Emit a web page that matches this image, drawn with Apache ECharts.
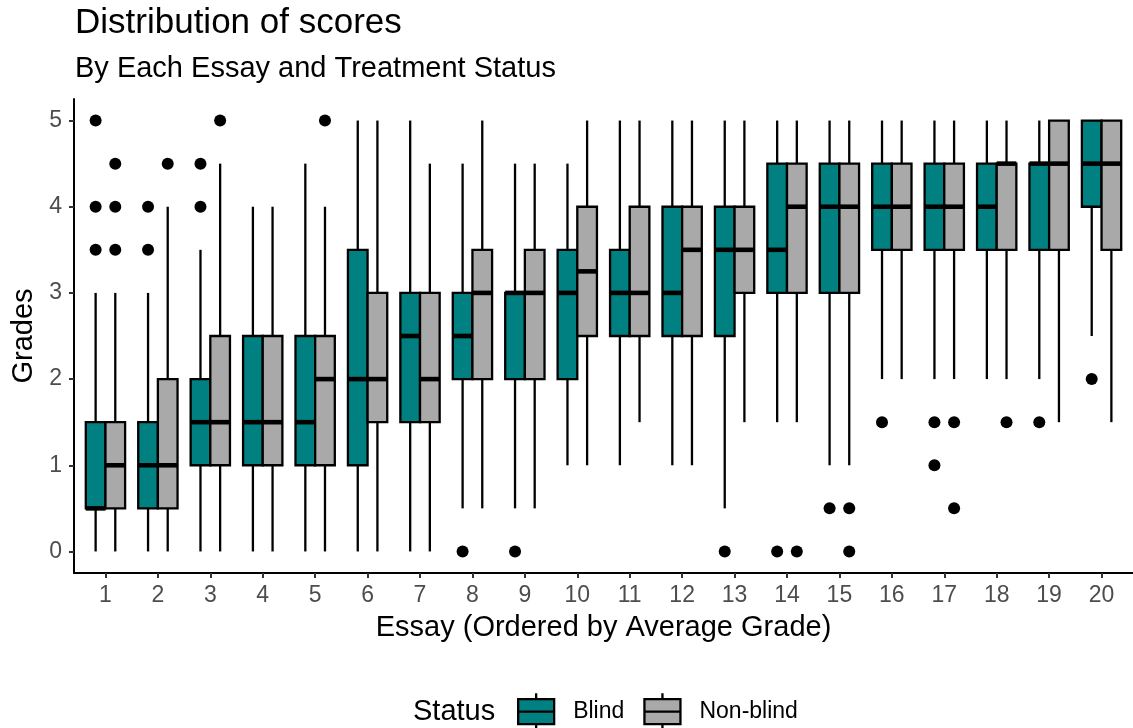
<!DOCTYPE html>
<html>
<head>
<meta charset="utf-8">
<script src="https://cdn.jsdelivr.net/npm/echarts@6/dist/echarts.min.js"></script>
<style>
  html, body { margin: 0; padding: 0; background: #fff; }
  #chart { width: 1133px; height: 728px; }
</style>
</head>
<body>
<div id="chart"></div>
<script>
// Essays, ordered by average grade
const essays = [1, 2, 3, 4, 5, 6, 7, 8, 9, 10, 11, 12, 13, 14, 15, 16, 17, 18, 19, 20];
const gradeTicks = [0, 1, 2, 3, 4, 5];

// Box statistics per essay: [lower whisker, Q1, median, Q3, upper whisker]
const blindStats = [
  [0, 0.5, 0.5, 1.5, 3],
  [0, 0.5, 1, 1.5, 3],
  [0, 1, 1.5, 2, 3.5],
  [0, 1, 1.5, 2.5, 4],
  [0, 1, 1.5, 2.5, 4.5],
  [0, 1, 2, 3.5, 5],
  [0, 1.5, 2.5, 3, 5],
  [0.5, 2, 2.5, 3, 4.5],
  [0.5, 2, 3, 3, 4.5],
  [1, 2, 3, 3.5, 4.5],
  [1, 2.5, 3, 3.5, 5],
  [1, 2.5, 3, 4, 5],
  [0.5, 2.5, 3.5, 4, 5],
  [1.5, 3, 3.5, 4.5, 5],
  [1, 3, 4, 4.5, 5],
  [2, 3.5, 4, 4.5, 5],
  [2, 3.5, 4, 4.5, 5],
  [2, 3.5, 4, 4.5, 5],
  [2, 3.5, 4.5, 4.5, 5],
  [2.5, 4, 4.5, 5, 5]
];
const nonBlindStats = [
  [0, 0.5, 1, 1.5, 3],
  [0, 0.5, 1, 2, 4],
  [0, 1, 1.5, 2.5, 4.5],
  [0, 1, 1.5, 2.5, 4],
  [0, 1, 2, 2.5, 4],
  [0, 1.5, 2, 3, 5],
  [0, 1.5, 2, 3, 4.5],
  [0.5, 2, 3, 3.5, 5],
  [0.5, 2, 3, 3.5, 4.5],
  [1, 2.5, 3.25, 4, 5],
  [1.5, 2.5, 3, 4, 5],
  [1, 2.5, 3.5, 4, 5],
  [1.5, 3, 3.5, 4, 5],
  [1.5, 3, 4, 4.5, 5],
  [1, 3, 4, 4.5, 5],
  [2, 3.5, 4, 4.5, 5],
  [2, 3.5, 4, 4.5, 5],
  [2, 3.5, 4.5, 4.5, 5],
  [1.5, 3.5, 4.5, 5, 5],
  [1.5, 3.5, 4.5, 5, 5]
];

// Outlying grades: [essay, grade]
const blindOutliers = [
  [1, 3.5], [1, 4], [1, 5],
  [2, 3.5], [2, 4],
  [3, 4], [3, 4.5],
  [8, 0], [9, 0], [13, 0], [14, 0],
  [15, 0.5], [16, 1.5], [17, 1.5], [17, 1],
  [19, 1.5], [20, 2]
];
const nonBlindOutliers = [
  [1, 3.5], [1, 4], [1, 4.5],
  [2, 4.5], [3, 5], [5, 5],
  [14, 0], [15, 0.5], [15, 0],
  [17, 1.5], [17, 0.5], [18, 1.5]
];

const statusNames = ['Blind', 'Non-blind'];
const statusColors = ['#008080', '#A9A9A9'];

const FONT = '"Liberation Sans", Arial, Helvetica, sans-serif';
const DODGE = 0.1875;      // offset of each status box from the essay tick
const HALF_BOX = 0.1875;   // half box width, in essay units
const LINE_W = 2.3;
const MEDIAN_W = 4.6;

function boxRenderer(side) {
  return function (params, api) {
    const e = api.value(0) + side * DODGE;
    const lo = api.value(1), q1 = api.value(2), med = api.value(3), q3 = api.value(4), hi = api.value(5);
    const halfW = api.size([HALF_BOX, 0])[0];
    const pLo = api.coord([e, lo]);
    const pQ1 = api.coord([e, q1]);
    const pMed = api.coord([e, med]);
    const pQ3 = api.coord([e, q3]);
    const pHi = api.coord([e, hi]);
    const cx = pQ1[0];
    const fill = api.visual('color');
    return {
      type: 'group',
      children: [
        { type: 'line', shape: { x1: cx, y1: pQ3[1], x2: cx, y2: pHi[1] },
          style: { stroke: '#000', lineWidth: LINE_W } },
        { type: 'line', shape: { x1: cx, y1: pQ1[1], x2: cx, y2: pLo[1] },
          style: { stroke: '#000', lineWidth: LINE_W } },
        { type: 'rect', shape: { x: cx - halfW, y: pQ3[1], width: 2 * halfW, height: pQ1[1] - pQ3[1] },
          style: { fill: fill, stroke: '#000', lineWidth: LINE_W } },
        { type: 'line', shape: { x1: cx - halfW, y1: pMed[1], x2: cx + halfW, y2: pMed[1] },
          style: { stroke: '#000', lineWidth: MEDIAN_W } }
      ]
    };
  };
}

function boxData(stats) {
  return stats.map((s, i) => [essays[i]].concat(s));
}

const legendIcon = 'path://M18,0V6M0,6H36V31H0ZM0,18.5H36M18,31V37';

const chart = echarts.init(document.getElementById('chart'), null, { renderer: 'canvas' });
chart.setOption({
  backgroundColor: '#ffffff',
  animation: false,
  textStyle: { fontFamily: FONT },
  title: [
    { text: 'Distribution of scores', left: 75, top: 6, padding: 0,
      textStyle: { fontFamily: FONT, fontSize: 35, fontWeight: 'normal', color: '#000' } },
    { text: 'By Each Essay and Treatment Status', left: 75, top: 54, padding: 0,
      textStyle: { fontFamily: FONT, fontSize: 29, fontWeight: 'normal', color: '#000' } },
    { text: 'Status', left: 413, top: 697, padding: 0,
      textStyle: { fontFamily: FONT, fontSize: 29, fontWeight: 'normal', color: '#000' } }
  ],
  legend: {
    data: statusNames.map((n, i) => ({
      name: n,
      icon: legendIcon,
      itemStyle: { color: statusColors[i], borderColor: '#000', borderWidth: LINE_W }
    })),
    left: 517, top: 692, padding: 0,
    itemWidth: 36, itemHeight: 37, itemGap: 19,
    selectedMode: false,
    textStyle: { fontFamily: FONT, fontSize: 23, color: '#000', padding: [0, 0, 0, 14] }
  },
  grid: { left: 74, top: 99, width: 1064, height: 474, containLabel: false },
  xAxis: {
    type: 'value', min: 0.4, max: 20.6,
    name: 'Essay (Ordered by Average Grade)', nameLocation: 'middle', nameGap: 40,
    nameTextStyle: { fontFamily: FONT, fontSize: 29, color: '#000' },
    splitLine: { show: false },
    axisLine: { show: true, onZero: false, lineStyle: { color: '#000', width: 2 } },
    axisTick: { show: true, length: 5, customValues: essays, lineStyle: { color: '#333', width: 2 } },
    axisLabel: { customValues: essays, margin: 11, fontFamily: FONT, fontSize: 23, color: '#4D4D4D' }
  },
  yAxis: {
    type: 'value', min: -0.25, max: 5.25,
    name: 'Grades', nameLocation: 'middle', nameGap: 36, nameRotate: 90,
    nameTextStyle: { fontFamily: FONT, fontSize: 29, color: '#000' },
    splitLine: { show: false },
    axisLine: { show: true, onZero: false, lineStyle: { color: '#000', width: 2 } },
    axisTick: { show: true, length: 5, customValues: gradeTicks, lineStyle: { color: '#333', width: 2 } },
    axisLabel: { customValues: gradeTicks, margin: 12, fontFamily: FONT, fontSize: 23, color: '#4D4D4D' }
  },
  series: [
    {
      name: 'Blind', type: 'custom',
      itemStyle: { color: statusColors[0], borderColor: '#000', borderWidth: LINE_W },
      encode: { x: 0, y: [1, 2, 3, 4, 5] },
      renderItem: boxRenderer(-1),
      data: boxData(blindStats)
    },
    {
      name: 'Non-blind', type: 'custom',
      itemStyle: { color: statusColors[1], borderColor: '#000', borderWidth: LINE_W },
      encode: { x: 0, y: [1, 2, 3, 4, 5] },
      renderItem: boxRenderer(1),
      data: boxData(nonBlindStats)
    },
    {
      name: 'Blind outliers', type: 'scatter',
      symbol: 'circle', symbolSize: 12,
      itemStyle: { color: '#000', opacity: 1 },
      data: blindOutliers.map(([e, v]) => [e - DODGE, v])
    },
    {
      name: 'Non-blind outliers', type: 'scatter',
      symbol: 'circle', symbolSize: 12,
      itemStyle: { color: '#000', opacity: 1 },
      data: nonBlindOutliers.map(([e, v]) => [e + DODGE, v])
    }
  ]
});
</script>
</body>
</html>
